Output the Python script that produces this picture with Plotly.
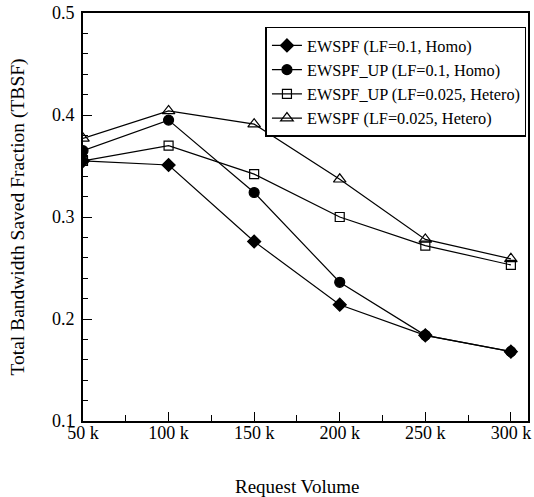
import plotly.graph_objects as go

x_k = [50, 100, 150, 200, 250, 300]
x_labels = ["50 k", "100 k", "150 k", "200 k", "250 k", "300 k"]

ewspf_homo = [0.355, 0.351, 0.276, 0.214, 0.184, 0.168]
ewspf_up_homo = [0.365, 0.395, 0.324, 0.236, 0.184, 0.168]
ewspf_up_hetero = [0.355, 0.370, 0.342, 0.300, 0.272, 0.253]
ewspf_hetero = [0.377, 0.404, 0.391, 0.337, 0.278, 0.259]

names = [
    "EWSPF (LF=0.1, Homo)",
    "EWSPF_UP (LF=0.1, Homo)",
    "EWSPF_UP (LF=0.025, Hetero)",
    "EWSPF (LF=0.025, Hetero)",
]
series = [ewspf_homo, ewspf_up_homo, ewspf_up_hetero, ewspf_hetero]
symbols = ["diamond", "circle", "square-open", "triangle-up-open"]
sizes = [10, 10, 9, 11]

font_family = "Liberation Serif, Times New Roman, Times, serif"

fig = go.Figure()
for i, (nm, ys, sym, sz) in enumerate(zip(names, series, symbols, sizes)):
    fig.add_trace(go.Scatter(
        x=x_k, y=ys, name=nm, mode="lines+markers",
        legendgroup=f"g{i}",
        line=dict(color="black", width=1.2),
        marker=dict(symbol=sym, size=sz, color="black",
                    line=dict(color="black", width=1.2)),
    ))

fig.update_layout(
    width=534, height=497,
    margin=dict(l=83, r=3, t=13, b=76),
    paper_bgcolor="white", plot_bgcolor="white",
    font=dict(family=font_family, size=15, color="black"),
    showlegend=True,
    legend=dict(
        x=0.41, y=0.966, xanchor="left", yanchor="top",
        bgcolor="white", bordercolor="black", borderwidth=1.5,
        font=dict(family=font_family, size=16.3, color="black"),
        tracegroupgap=0, traceorder="grouped",
    ),
    xaxis=dict(
        range=[50, 310], tickmode="array", tickvals=x_k, ticktext=x_labels,
        ticks="inside", ticklen=9, tickwidth=1.3, tickcolor="black",
        minor=dict(tickmode="linear", tick0=50, dtick=25, ticks="inside", ticklen=6, tickwidth=1.3, tickcolor="black"),
        showline=True, linecolor="black", linewidth=2, mirror=True,
        showgrid=False, zeroline=False,
        tickfont=dict(family=font_family, size=18),
        ticklabelstandoff=-6, ticklabeloverflow="allow",
    ),
    yaxis=dict(
        range=[0.1, 0.5], tickmode="array", tickvals=[0.1, 0.2, 0.3, 0.4, 0.5],
        ticktext=["0.1", "0.2", "0.3", "0.4", "0.5"],
        ticks="inside", ticklen=9, tickwidth=1.3, tickcolor="black",
        minor=dict(tickmode="linear", tick0=0.1, dtick=0.02, ticks="inside", ticklen=5, tickwidth=1.3, tickcolor="black"),
        showline=True, linecolor="black", linewidth=2, mirror=True,
        showgrid=False, zeroline=False,
        tickfont=dict(family=font_family, size=18),
        ticklabelstandoff=3, ticklabeloverflow="allow",
        title=dict(text="Total Bandwidth Saved Fraction (TBSF)", font=dict(family=font_family, size=19.5), standoff=22),
    ),
    annotations=[dict(
        text="Request Volume", xref="paper", yref="paper", x=0.48, y=-0.16,
        xanchor="center", yanchor="middle", showarrow=False,
        font=dict(family=font_family, size=19, color="black"),
    )],
)

fig.write_html("out.html", config={"displayModeBar": False},
               post_script="document.body.style.margin='0';")
